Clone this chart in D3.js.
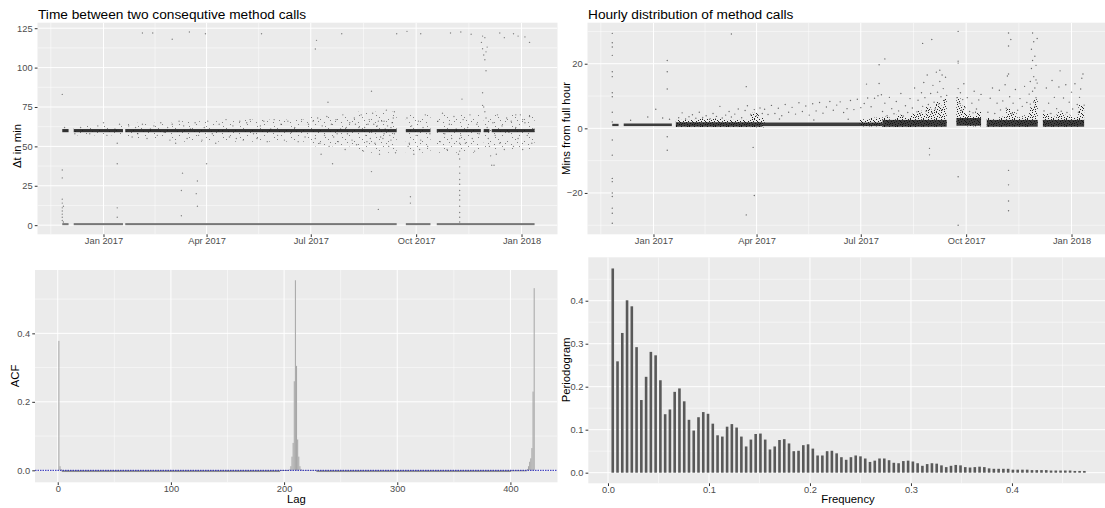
<!DOCTYPE html>
<html lang="en">
<head>
  <meta charset="UTF-8"/>
  <title>Method call timing</title>
  <style>
    *{margin:0;padding:0}
    body{background:#fff;font-family:"Liberation Sans",Arial,sans-serif}
    .tick text{fill:#4d4d4d;font-size:9.3px;font-family:"Liberation Sans",Arial,sans-serif}
    .tick line{stroke:#333}
    .ttl{font-size:13.7px;fill:#000}
    .axt{font-size:11.3px;fill:#000}
  </style>
</head>
<body>
<svg id="chart" width="1105" height="508"></svg>
<script src="https://d3js.org/d3.v7.min.js"></script>
<script>
  // ---- data (days counted from 1 Jan 2017) ----
  // dense run at ~60 min and at ~0 min, [fromDay, toDay]
  const band60 = [[-36,-30.5],[-26,17],[19,256],[264,285.5],[291,329.5],[332,337],[339,376.4]];
  const band0  = [[-36,-30.5],[-26,17],[19,256],[264,285.5],[291,376.4]];
  // loose cloud around the 60 min run [fromDay, toDay, low, high]
  const dtHalo = [[-26,17,57,63],[19,60,55,65],[60,120,53,66],[120,181,53,67],[181,220,50,69],[220,256,46,72],
    [264,285.5,46,70],[291,329,46,70],[332,376.4,48,70]];
  // scattered delta-t values [day, minutes]
  const dtPoints = [
    [-36,83],[-36,35],[-36,30],[-36,16.5],[-36,14],[-36,11],[-36,9],[-36,7],[-36,5],[-36,3],[-35,12],[-35,2],[-34,62],
    [-20,62],[-12,58],[-5,63],[3,57],[10,61],[14,64],[-25,58],[0,65],[12,52],[12,39],[12,11],[12,5],
    [22,63],[25,56],[28,62],[30,58],[34,64],[38,55],[41,61],[44,63],[47,57],[50,65],[53,59],[56,62],[58,54],[60,64],
    [63,52],[66,66],[70,63],[73,55],[76,61],[80,65],[83,57],[86,54],[88,62],[91,66],[95,58],[98,52],[101,64],[104,60],
    [107,67],[110,56],[113,63],[116,55],[119,66],[122,54],[125,65],[128,67],[131,58],[134,55],[137,63],[140,66],
    [143,53],[146,61],[149,67],[152,57],[155,64],[158,54],[161,66],[164,59],[167,62],[170,53],[173,67],[176,56],[179,64],
    [183,66],[185,55],[187,68],[189,52],[191,63],[193,57],[195,69],[197,50],[199,64],[201,56],[203,67],[205,53],
    [207,61],[209,70],[211,48],[213,58],[215,65],[217,54],[219,68],[221,51],[223,62],[225,70],[227,47],[229,57],
    [231,64],[233,55],[235,71],[237,52],[239,63],[241,45],[243,66],[245,58],[247,73],[249,50],[251,62],[253,68],
    [255,46],[238,60],[244,55],[250,57],[252,65],[246,61],[234,59],[228,62],[240,66],[242,56],[248,63],[254,58],
    [236,64],[230,53],[226,60],[232,67],[220,64],[212,62],[204,58],[254,72],[251,54],[245,66],
    [265,68],[267,52],[269,63],[271,45],[273,57],[275,66],[277,54],[279,62],[281,70],[283,50],[285,58],[268,60],[276,48],
    [292,66],[294,53],[296,71],[298,58],[300,48],[302,64],[304,55],[306,69],[308,61],[310,45],[312,57],[314,67],
    [316,52],[318,62],[320,70],[322,55],[324,47],[326,64],[328,58],
    [332,75],[333,72],[334,68],[335,62],[336,55],[337,50],[338,44],[339,38],[340,65],[342,57],[344,70],[346,52],
    [348,63],[350,48],[352,68],[354,59],[356,66],[358,50],[360,62],[362,55],[364,70],[366,48],[368,65],[370,57],
    [372,69],[374,52],[376,61],[360,70],[366,67],
    [34,122],[43,122],[60,118],[75,122.6],[89,121.5],[138,121.5],[186,117.3],[185,111.8],[208,121.5],[256,121.5],
    [265,123],[277,121.5],[303,122],[312,122.6],[321,121.2],[330,116],[331,112],[332,108],[333,105],[334,110],
    [335,113],[333,119],[331,120],[334,98],[346,122],[350,119],[358,121.5],[362,120],[368,119.5],[372,116],
    [196,78],[234,85],[313,80],[331,84],[331,76],[200,39],[190,45],
    [90,39],[81,20],[82,12],[69,33],[68,22],[82,28],[68,6],
    [311,2],[311,5],[311,8],[311,12],[311,16],[311,19],[311,22],[311,26],[311,29],[311,33],[311,37],[311,42],[311,47],
    [311,52],[311,55],[268,18],[268,14],[266,50],[234,34],[240,10],[341,38],[343,45]
  ];

  // hourly distribution: dense core and lighter spread [fromDay, toDay, lowMin, highMin]
  const hrCore = [[-36,-30.5,0.7,1.4],[-26,16,0.7,1.5],[19.5,95,0.5,1.9],[95,200,0.7,1.8],[200,256,0.5,2.6],
    [264.5,286,0.8,3.2],[291,335.5,0.5,2.6],[340,376,0.5,2.6]];
  const hrSpread = [[19.5,40,0.4,2.6],[40,60,0.4,3.0],[60,85,0.4,2.6],[85,92,0.3,4.8],[92,97,0.3,3.2],
    [180,190,0.6,2.8],[190,200,0.6,3.3],[200,206,0.4,3.6],[206,212,0.4,2.8],[212,218,0.4,4.2],[218,224,0.4,3.2],
    [224,230,0.4,4.5],[230,234,0.5,5.5],[234,238,0.5,4.5],[238,242,0.5,6.8],[242,246,0.5,5.8],[246,250,0.5,8.2],
    [250,253,0.5,7.0],[253,256,0.5,9.2],[264.5,268,1.0,9.5],[268,272,1.0,7.0],[272,276,0.6,4.6],[276,281,0.6,3.8],
    [281,286,0.6,5.2],[291,296,0.5,3.2],[296,302,0.5,2.8],[302,308,0.5,3.6],[308,312,0.6,6.2],[312,317,0.6,5.0],
    [317,322,0.5,3.4],[322,328,0.5,4.0],[328,332,0.8,6.5],[332,335.5,1.0,9.0],[340,346,0.5,4.5],[346,352,0.5,3.6],
    [352,358,0.5,5.0],[358,364,0.5,4.2],[364,371,0.5,3.5],[371,376,1.2,7.2]];
  const hrPoints = [
    [-36,29.4],[-36,26.5],[-36,25.2],[-36,22.6],[-36,17.5],[-36,16],[-36,11],[-36,9.8],[-36,5],[-36,2],[-36,-3.6],
    [-36,-8.3],[-36,-15.5],[-36,-16.5],[-36,-20],[-36,-21.1],[-36,-24.7],[-36,-26.3],[-36,-29.4],
    [-20,2.5],[-5,3.5],[8,3.2],[12,21],[12,17.5],[12,12.2],[12,-2.6],[12,-6.8],[2,5.9],[14,2.8],
    [22,3.3],[25,4.8],[28,2.9],[31,3.6],[34,4.2],[37,3.1],[40,5.0],[43,3.4],[46,3.9],[49,2.8],[52,4.6],[55,3.7],
    [58,6.8],[60,3.2],[63,4.1],[66,5.2],[68,3.5],[71,4.4],[74,6.0],[77,3.3],[80,5.5],[82,7.0],[85,4.2],[88,5.8],
    [90,3.9],[93,6.3],[95,4.6],[68,29.2],[81,12.9],[81,-26.8],[87,-5.9],[88,-20.8],
    [97,5.9],[100,4.3],[103,7.1],[106,4.6],[109,6.2],[112,3.9],[115,7.4],[118,5.0],[121,6.5],[124,4.4],[127,7.9],
    [130,5.2],[133,6.9],[136,4.1],[139,7.6],[142,5.4],[145,8.0],[148,4.7],[151,6.6],[154,8.3],[157,5.6],[160,7.2],
    [163,8.2],[166,4.9],[169,6.1],[172,8.6],[175,5.8],[178,9.0],[181,6.4],[184,7.7],[187,9.4],[190,6.7],[193,9.3],
    [196,10.1],[186,13.7],[197,13.9],[197,19.7],[199,10.4],[202,21.5],[170,2.8],[140,2.6],[110,2.9],
    [200,5.2],[202,7.8],[204,3.9],[206,9.6],[208,6.1],[210,4.5],[212,8.3],[214,5.4],[216,10.8],[218,3.8],[220,7.0],
    [222,4.9],[224,9.2],[226,6.3],[228,12.5],[230,5.1],[231,8.7],[233,4.4],[234,11.0],[235,6.8],[236,14.2],[237,9.5],
    [238,5.3],[239,16.5],[240,7.4],[241,-6.2],[241,-8.2],[242,10.8],[243,4.9],[244,13.3],[245,8.1],[246,6.0],
    [247,17.4],[248,11.2],[249,7.5],[250,14.5],[251,9.8],[252,5.7],[253,12.3],[254,8.6],[255,15.8],[256,10.2],
    [235,26.3],[243,27.5],[250,18.0],[252,16.5],
    [265,9.5],[266,12.3],[266,-15],[266,-30],[266,30],[266,20.8],[266,20.2],[267,7.8],[268,11.0],[269,5.6],[270,8.9],
    [271,13.8],[272,6.4],[274,9.5],[276,5.2],[278,7.8],[280,11.5],[282,6.0],[284,8.8],[286,10.5],[279,4.8],
    [292,5.0],[294,9.3],[296,12.5],[298,4.6],[300,7.8],[302,11.8],[303,5.7],[305,8.5],[307,13.5],[308,6.2],[309,16.2],
    [310,29.5],[310,25.5],[310,16.8],[310,-13],[310,-17.5],[310,-22.5],[310,-25.5],[311,9.8],[312,27.5],[313,4.5],
    [314,7.8],[316,12.0],[318,5.6],[320,9.2],[322,6.8],[324,13.0],[326,8.0],[328,10.6],[329,14.5],[330,18.5],
    [330,24.5],[331,21.0],[331,29.5],[332,26.8],[332,16.0],[333,12.5],[333,22.3],[334,19.5],[334,9.5],[335,27.8],
    [335,14.0],[329,7.5],[331,11.5],[332,8.2],[333,6.8],[334,15.0],
    [341,5.4],[343,12.5],[345,7.8],[347,4.6],[348,14.8],[350,9.6],[352,6.1],[354,12.8],[355,17.8],[356,5.3],
    [358,9.4],[360,13.5],[361,4.9],[363,8.1],[365,11.2],[366,6.0],[368,13.8],[370,7.4],[371,5.0],[372,9.6],
    [373,12.2],[374,15.5],[375,16.8],[376,7.2]
  ];

  // autocorrelation: single lags [lag, acf] and flat runs [fromLag, toLag, acf]
  const acfSpikes = [[1,0.378],[2,0.012],[205,0.003],[206,0.012],[207,0.04],[208,0.08],[209,0.26],[210,0.555],
    [211,0.305],[212,0.09],[213,0.04],[214,0.012],[215,0.004],[415,0.004],[416,0.012],[417,0.025],[418,0.035],
    [419,0.065],[420,0.23],[421,0.532]];
  const acfRuns = [[3,3,0.003],[4,196,-0.005],[197,204,-0.002],[216,228,-0.001],[229,400,-0.005],[401,414,-0.003]];

  // periodogram, frequencies k/212
  const pgram = [0.475,0.259,0.325,0.401,0.387,0.292,0.169,0.223,0.281,0.273,
    0.215,0.136,0.147,0.188,0.196,0.166,0.123,0.098,0.129,0.141,
    0.137,0.114,0.087,0.084,0.107,0.113,0.105,0.084,0.061,0.077,
    0.090,0.091,0.077,0.054,0.061,0.076,0.078,0.068,0.050,0.051,
    0.064,0.066,0.056,0.040,0.040,0.050,0.051,0.045,0.036,0.030,
    0.036,0.040,0.038,0.033,0.025,0.028,0.033,0.033,0.029,0.023,
    0.022,0.027,0.028,0.026,0.022,0.016,0.020,0.022,0.021,0.017,
    0.013,0.016,0.018,0.017,0.013,0.012,0.013,0.014,0.013,0.010,
    0.009,0.009,0.009,0.009,0.007,0.007,0.007,0.007,0.006,0.006,
    0.006,0.006,0.005,0.005,0.005,0.005,0.005,0.004,0.004,0.004];
  const nFreq = 212;

  const dateTicks = [new Date(2017,0,1),new Date(2017,3,1),new Date(2017,6,1),new Date(2017,9,1),new Date(2018,0,1)];

  // ---- drawing ----
  const svg = d3.select('#chart');
  const defs = svg.append('defs');
  const day0 = new Date(2017,0,1);
  const toDate = d => new Date(+day0 + d*864e5);
  const timeDomain = [new Date(2016,10,4,9), new Date(2018,1,1,10)];

  // speckle textures so dense runs read like overplotted points
  function speckle(id, w, h, dots, op){
    const p = defs.append('pattern').attr('id',id).attr('width',w).attr('height',h).attr('patternUnits','userSpaceOnUse');
    p.selectAll('rect').data(dots).join('rect').attr('x',d=>d[0]).attr('y',d=>d[1])
      .attr('width',1).attr('height',1).attr('fill','#000').attr('fill-opacity',op);
  }
  speckle('spk', 13, 7, [[0,0],[5,0],[9,1],[2,1],[12,2],[7,2],[4,3],[10,3],[1,4],[6,4],[11,5],[3,5],[8,6],[0,6],[5,5],
    [11,0],[3,2],[8,4]], 0.85);
  speckle('halo', 17, 11, [[1,1],[9,3],[5,7],[14,9],[2,5],[12,0],[7,10]], 0.45);

  function panel(id, x0, x1, y0, y1, xs, ys, xMajor, xMinor, yMajor, yMinor){
    const g = svg.append('g');
    g.append('rect').attr('x',x0).attr('y',y0).attr('width',x1-x0).attr('height',y1-y0).attr('fill','#ebebeb');
    g.append('clipPath').attr('id',id).append('rect').attr('x',x0).attr('y',y0).attr('width',x1-x0).attr('height',y1-y0);
    const grid = g.append('g').attr('clip-path',`url(#${id})`);
    grid.selectAll('.vmin').data(xMinor).join('line').attr('x1',xs).attr('x2',xs).attr('y1',y0).attr('y2',y1)
      .attr('stroke','#fff').attr('stroke-width',0.5);
    grid.selectAll('.hmin').data(yMinor).join('line').attr('y1',ys).attr('y2',ys).attr('x1',x0).attr('x2',x1)
      .attr('stroke','#fff').attr('stroke-width',0.5);
    grid.selectAll('.vmaj').data(xMajor).join('line').attr('x1',xs).attr('x2',xs).attr('y1',y0).attr('y2',y1)
      .attr('stroke','#fff').attr('stroke-width',1);
    grid.selectAll('.hmaj').data(yMajor).join('line').attr('y1',ys).attr('y2',ys).attr('x1',x0).attr('x2',x1)
      .attr('stroke','#fff').attr('stroke-width',1);
    return g.append('g').attr('clip-path',`url(#${id})`);
  }
  function axes(xs, ys, x0, y1, xTicks, yTicks, xFmt, yFmt){
    const ax = svg.append('g').attr('transform',`translate(0,${y1})`)
      .call(d3.axisBottom(xs).tickValues(xTicks).tickFormat(xFmt).tickSize(2.75).tickPadding(0.8));
    ax.select('.domain').remove();
    const ay = svg.append('g').attr('transform',`translate(${x0},0)`)
      .call(d3.axisLeft(ys).tickValues(yTicks).tickFormat(yFmt).tickSize(2.75).tickPadding(2.2));
    ay.select('.domain').remove();
  }
  const mids = t => t.slice(1).map((d,i)=>new Date((+t[i] + +d)/2));
  const dateMinor = mids([new Date(2016,9,1)].concat(dateTicks));
  const fmtDate = d3.timeFormat('%b %Y');
  const spanRect = (sel, data, x, y, lo, hi) => sel.selectAll(null).data(data).join('rect')
      .attr('x',d=>x(toDate(d[0]))).attr('width',d=>x(toDate(d[1]))-x(toDate(d[0])))
      .attr('y',d=>y(hi(d))).attr('height',d=>y(lo(d))-y(hi(d)));

  // --- top left ---
  {
    const x = d3.scaleTime().domain(timeDomain).range([37.5,557.5]);
    const y = d3.scaleLinear().domain([-5.8,128.5]).range([234.3,22.7]);
    const yT = [0,25,50,75,100,125];
    const p = panel('c1',37.5,557.5,22.7,234.3,x,y,dateTicks,dateMinor,yT,[12.5,37.5,62.5,87.5,112.5]);
    spanRect(p, dtHalo, x, y, d=>d[2], d=>d[3]).attr('fill','url(#halo)');
    spanRect(p, band0, x, y, ()=>0, ()=>1.3).attr('fill','#777');
    p.selectAll('.pt').data(dtPoints).join('circle')
      .attr('cx',d=>x(toDate(d[0]))).attr('cy',d=>y(d[1])).attr('r',0.7)
      .attr('fill','#000').attr('fill-opacity',0.45);
    spanRect(p, band60, x, y, ()=>59, ()=>61).attr('fill','#111').attr('fill-opacity',0.85);
    axes(x,y,37.5,234.3,dateTicks,yT,fmtDate,d3.format('d'));
    svg.append('text').attr('class','ttl').attr('x',38).attr('y',18.5).text('Time between two consequtive method calls');
    svg.append('text').attr('class','axt').attr('transform','translate(20.5,146) rotate(-90)')
      .attr('text-anchor','middle').text('Δt in min');
  }

  // --- top right ---
  {
    const x = d3.scaleTime().domain(timeDomain).range([587.5,1107.5]);
    const y = d3.scaleLinear().domain([-32.8,32.7]).range([234.3,22.7]);
    const yT = [-20,0,20];
    const p = panel('c2',587.5,1107.5,22.7,234.3,x,y,dateTicks,dateMinor,yT,[-30,-10,10,30]);
    spanRect(p, hrSpread, x, y, d=>d[2], d=>d[3]).attr('fill','url(#spk)');
    spanRect(p, hrCore, x, y, d=>d[2], d=>d[3]).attr('fill','#111').attr('fill-opacity',0.8);
    p.selectAll('.pt').data(hrPoints).join('circle')
      .attr('cx',d=>x(toDate(d[0]))).attr('cy',d=>y(d[1])).attr('r',0.7)
      .attr('fill','#000').attr('fill-opacity',0.55);
    axes(x,y,587.5,234.3,dateTicks,yT,fmtDate,d3.format('d'));
    svg.append('text').attr('class','ttl').attr('x',588).attr('y',18.5).text('Hourly distribution of method calls');
    svg.append('text').attr('class','axt').attr('transform','translate(570,128.5) rotate(-90)')
      .attr('text-anchor','middle').text('Mins from full hour');
  }

  // --- bottom left: ACF ---
  {
    const x = d3.scaleLinear().domain([-20.1,441.6]).range([35,557.5]);
    const y = d3.scaleLinear().domain([-0.035,0.585]).range([482.3,270]);
    const xT = [0,100,200,300,400], yT = [0,0.2,0.4];
    const p = panel('c3',35,557.5,270,482.3,x,y,xT,[50,150,250,350],yT,[0.1,0.3,0.5]);
    p.selectAll('.run').data(acfRuns).join('rect')
      .attr('x',d=>x(d[0]-0.45)).attr('width',d=>x(d[1]+0.45)-x(d[0]-0.45))
      .attr('y',d=>y(Math.max(0,d[2]))).attr('height',d=>Math.abs(y(0)-y(d[2])))
      .attr('fill','#8c8c8c');
    p.selectAll('.sp').data(acfSpikes).join('rect')
      .attr('x',d=>x(d[0]-0.45)).attr('width',d=>x(d[0]+0.45)-x(d[0]-0.45))
      .attr('y',d=>y(Math.max(0,d[1]))).attr('height',d=>Math.abs(y(0)-y(d[1])))
      .attr('fill','#a6a6a6');
    p.append('line').attr('x1',35).attr('x2',557.5).attr('y1',y(0)).attr('y2',y(0))
      .attr('stroke','#1f1fb4').attr('stroke-width',1).attr('stroke-dasharray','1.5,1');
    axes(x,y,35,482.3,xT,yT,d3.format('d'),d3.format('.1f'));
    svg.append('text').attr('class','axt').attr('x',296.4).attr('y',503).attr('text-anchor','middle').text('Lag');
    svg.append('text').attr('class','axt').attr('transform','translate(18.5,376) rotate(-90)')
      .attr('text-anchor','middle').text('ACF');
  }

  // --- bottom right: periodogram ---
  {
    const x = d3.scaleLinear().domain([-0.0195,0.4946]).range([588.3,1107.5]);
    const y = d3.scaleLinear().domain([-0.0247,0.501]).range([483.3,257.3]);
    const xT = [0,0.1,0.2,0.3,0.4], yT = [0,0.1,0.2,0.3,0.4];
    const p = panel('c4',588.3,1107.5,257.3,483.3,x,y,xT,[0.05,0.15,0.25,0.35,0.45],yT,[0.05,0.15,0.25,0.35,0.45]);
    p.selectAll('.bar').data(pgram).join('rect')
      .attr('x',(d,i)=>x((i+1)/nFreq)-1.3).attr('width',2.6)
      .attr('y',d=>y(d)).attr('height',d=>y(0)-y(d)).attr('fill','#595959');
    axes(x,y,588.3,483.3,xT,yT,d3.format('.1f'),d3.format('.1f'));
    svg.append('text').attr('class','axt').attr('x',848).attr('y',503).attr('text-anchor','middle').text('Frequency');
    svg.append('text').attr('class','axt').attr('transform','translate(570,370) rotate(-90)')
      .attr('text-anchor','middle').text('Periodogram');
  }
</script>
</body>
</html>
